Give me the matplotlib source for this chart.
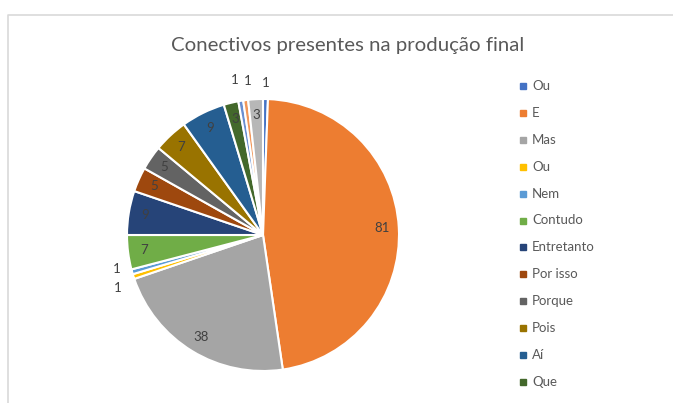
import numpy as np
import matplotlib
matplotlib.use("Agg")
import matplotlib.pyplot as plt
from matplotlib.lines import Line2D

# slice order, clockwise from the top
names = ["Ou", "E", "Mas", "Ou", "Nem", "Contudo", "Entretanto", "Por isso",
         "Porque", "Pois", "Aí", "Que", "", "", ""]
counts = [1, 81, 38, 1, 1, 7, 9, 5, 5, 7, 9, 3, 1, 1, 3]
colors = ["#4472C4", "#ED7D31", "#A5A5A5", "#FFC000", "#5B9BD5", "#70AD47",
          "#264478", "#9E480E", "#636363", "#997300", "#255E91", "#43682B",
          "#698ED0", "#F1975A", "#B7B7B7"]
legend_count = 12

# pixel nudges for the crowded outside labels (x right, y up)
nudge = {3: (0, -6), 4: (0, 7), 12: (-3, 5), 13: (4, 3)}

W, H = 673, 403
plt.rcParams["font.family"] = ["Lato", "DejaVu Sans"]

fig = plt.figure(figsize=(W / 100, H / 100), dpi=100)

# pie axes: center (263, 235) px, radius 136 px
cx, cy, r = 263, 235, 136
ax = fig.add_axes([(cx - r) / W, (H - cy - r) / H, 2 * r / W, 2 * r / H])
wedges, _ = ax.pie(counts, colors=colors, startangle=90, counterclock=False,
                   radius=1, wedgeprops=dict(edgecolor="white", linewidth=1.5))
ax.set_xlim(-1, 1)
ax.set_ylim(-1, 1)
ax.set_aspect("equal")
ax.axis("off")

# data labels
total = sum(counts)
cum = np.cumsum(counts) - np.array(counts) / 2
for i, (v, c) in enumerate(zip(counts, cum)):
    ang = np.deg2rad(90 - c / total * 360)
    dist = 1.12 if v == 1 else 0.88
    ax.annotate(str(v), (dist * np.cos(ang), dist * np.sin(ang)),
                xytext=nudge.get(i, (0, 0)), textcoords="offset pixels",
                ha="center", va="center", fontsize=9.5, color="#404040",
                annotation_clip=False)

fig.text(0.5 * (170 + 525) / W, 1 - 45 / H, "Conectivos presentes na produção final",
         ha="center", va="center", fontsize=14.7, color="#595959")

# legend (only the first 12 entries fit)
for i in range(legend_count):
    y = 1 - (86 + i * 26.9) / H
    fig.add_artist(Line2D([523 / W], [y], marker="s", markersize=5,
                          color=colors[i], linestyle=""))
    fig.text(532 / W, y, names[i], ha="left", va="center", fontsize=9.5,
             color="#595959")

# chart border
fig.add_artist(Line2D([8 / W, 8 / W, 1], [0, 1 - 15 / H, 1 - 15 / H],
                      color="#d9d9d9", linewidth=1.2))

fig.savefig("out.png", dpi=100)
